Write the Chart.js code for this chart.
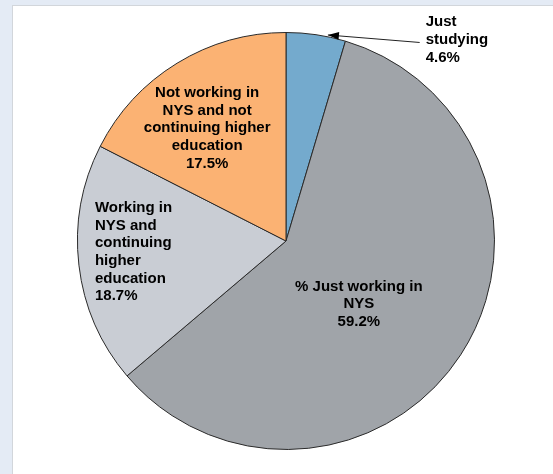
<!DOCTYPE html>
<html>
<head>
<meta charset="utf-8">
<script src="https://cdn.jsdelivr.net/npm/chart.js@4/dist/chart.umd.min.js"></script>
<style>
  html, body { margin: 0; padding: 0; background: #e4ebf5; width: 553px; height: 474px; overflow: hidden; }
  .panel { position: absolute; left: 12px; top: 5px; width: 560px; height: 480px; background: #fff; border: 1px solid #d2d6db; }
  #wrap { position: absolute; left: 0; top: 0; width: 553px; height: 474px; }
</style>
</head>
<body>
<div class="panel"></div>
<div id="wrap"><canvas id="pie" width="553" height="474"></canvas></div>
<script>
// ---------- Data ----------
const categories = [
  "Just studying",
  "% Just working in NYS",
  "Working in NYS and continuing higher education",
  "Not working in NYS and not continuing higher education",
];
const shares = [4.6, 59.2, 18.7, 17.5];
const labelLines = [
  ["Just", "studying", "4.6%"],
  ["% Just working in", "NYS", "59.2%"],
  ["Working in", "NYS and", "continuing", "higher", "education", "18.7%"],
  ["Not working in", "NYS and not", "continuing higher", "education", "17.5%"],
];
const colors = ["#74aacd", "#a0a4a9", "#c9cdd4", "#fbb273"];

// label block placement, offsets from pie centre in px at r=209
const labelPos = [
  { dx: 140, dy: -201.5, align: "left" },
  { dx: 73, dy: 63.5, align: "center" },
  { dx: -191.5, dy: 11, align: "left" },
  { dx: -79, dy: -113, align: "center" },
];

const sliceLabels = {
  id: "sliceLabels",
  afterDatasetsDraw(chart) {
    const ctx = chart.ctx;
    const arc = chart.getDatasetMeta(0).data[0];
    const cx = arc.x, cy = arc.y, k = arc.outerRadius / 209;
    ctx.save();
    ctx.fillStyle = "#000";
    ctx.font = "bold 15px 'Liberation Sans', Arial, sans-serif";
    ctx.textBaseline = "middle";
    const lh = 17.7;
    labelLines.forEach((lines, i) => {
      const p = labelPos[i];
      const x = cx + p.dx * k;
      const y0 = cy + p.dy * k - ((lines.length - 1) * lh) / 2;
      ctx.textAlign = p.align;
      lines.forEach((t, j) => ctx.fillText(t, x, y0 + j * lh));
    });

    // leader arrow for the small slice
    const sx = cx + 134 * k, sy = cy - 199 * k;
    const tx = cx + 42 * k, ty = cy - 206.5 * k;
    const ang = Math.atan2(ty - sy, tx - sx);
    ctx.strokeStyle = "#222";
    ctx.lineWidth = 1;
    ctx.beginPath();
    ctx.moveTo(sx, sy);
    ctx.lineTo(tx, ty);
    ctx.stroke();
    ctx.fillStyle = "#000";
    ctx.beginPath();
    ctx.moveTo(tx, ty);
    ctx.lineTo(tx - 11 * Math.cos(ang) + 4 * Math.sin(ang), ty - 11 * Math.sin(ang) - 4 * Math.cos(ang));
    ctx.lineTo(tx - 11 * Math.cos(ang) - 4 * Math.sin(ang), ty - 11 * Math.sin(ang) + 4 * Math.cos(ang));
    ctx.closePath();
    ctx.fill();
    ctx.restore();
  },
};

new Chart(document.getElementById("pie"), {
  type: "pie",
  data: {
    labels: categories,
    datasets: [{
      data: shares,
      backgroundColor: colors,
      borderColor: "#2a2a2a",
      borderWidth: 1,
    }],
  },
  options: {
    responsive: false,
    animation: false,
    layout: { padding: { left: 77, right: 58, top: 32, bottom: 24 } },
    plugins: {
      legend: { display: false },
      tooltip: { enabled: false },
    },
  },
  plugins: [sliceLabels],
});
</script>
</body>
</html>
